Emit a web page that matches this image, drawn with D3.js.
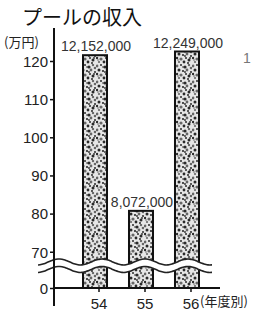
<!doctype html>
<html lang="ja">
<head>
<meta charset="utf-8">
<title>プールの収入</title>
<script src="https://cdn.jsdelivr.net/npm/d3@7"></script>
<style>
  html, body { margin: 0; padding: 0; background: #fff; }
  svg { display: block; }
  text { font-family: "Liberation Sans", "DejaVu Sans", sans-serif; fill: #222; }
  .jp { font-family: "Noto Sans CJK JP", sans-serif; }
</style>
</head>
<body>
<div id="chart"></div>
<script>
  // data (values in the axis unit, 万円 as printed; labels are the yen amounts)
  const years = ['54', '55', '56'];
  const income = [121.52, 80.72, 122.49];
  const incomeLabels = ['12,152,000', '8,072,000', '12,249,000'];
  const yTicks = [0, 70, 80, 90, 100, 110, 120];

  const width = 255, height = 312;

  const svg = d3.select('#chart').append('svg')
    .attr('width', width)
    .attr('height', height);

  // speckled fill like the printed screen tone
  const specks = [
    [1, 2, 1.4], [5, 1, 1.0], [9, 3, 1.6], [13, 1, 1.2], [3, 6, 1.5], [7, 7, 1.1],
    [11, 6, 1.4], [15, 8, 1.0], [1, 10, 1.2], [5, 11, 1.6], [10, 10, 1.0], [13, 12, 1.5],
    [3, 14, 1.1], [8, 14, 1.4], [12, 15, 1.0], [15, 4, 1.3], [7, 3, 0.8], [9, 8, 0.9],
    [2, 12, 0.8], [14, 10, 0.9]
  ];
  const pat = svg.append('defs').append('pattern')
    .attr('id', 'tone')
    .attr('patternUnits', 'userSpaceOnUse')
    .attr('width', 16).attr('height', 16);
  pat.append('rect').attr('width', 16).attr('height', 16).attr('fill', '#e6e6e6');
  pat.selectAll('circle').data(specks).join('circle')
    .attr('cx', d => d[0]).attr('cy', d => d[1]).attr('r', d => d[2])
    .attr('fill', (d, i) => i % 3 === 0 ? '#666' : '#2a2a2a');

  const x = d3.scaleBand()
    .domain(years)
    .range([83, 199])
    .paddingInner(0.478)
    .paddingOuter(0);

  // broken axis: 0 at the bottom, the break, then 70..120
  const y = d3.scaleLinear()
    .domain([0, 66, 120])
    .range([288, 267, 61]);

  // bars
  svg.selectAll('rect.bar')
    .data(years)
    .join('rect')
    .attr('class', 'bar')
    .attr('x', d => x(d))
    .attr('width', x.bandwidth())
    .attr('y', (d, i) => y(income[i]))
    .attr('height', (d, i) => y(0) - y(income[i]))
    .attr('fill', 'url(#tone)')
    .attr('stroke', '#111')
    .attr('stroke-width', 2);

  // value labels
  svg.selectAll('text.val')
    .data(years)
    .join('text')
    .attr('class', 'val')
    .attr('x', d => x(d) + x.bandwidth() / 2 + 1)
    .attr('y', (d, i) => y(income[i]) - 4)
    .attr('text-anchor', 'middle')
    .style('font-size', '14px')
    .style('fill', '#333')
    .text((d, i) => incomeLabels[i]);

  // break symbol: two wavy lines with white between them
  const waveX = d3.range(38, 213, 2);
  const wave = (x0, c) => c - 3 * Math.cos((x0 - 59) / 43 * 2 * Math.PI);
  const upper = waveX.map(v => [v, wave(v, 262)]);
  const lower = waveX.map(v => [v, wave(v, 269.5)]);
  svg.append('path')
    .attr('d', d3.line()(upper.concat(lower.slice().reverse())) + 'Z')
    .attr('fill', '#fff');
  const line = d3.line().curve(d3.curveBasis);
  [upper, lower].forEach(pts => {
    svg.append('path')
      .attr('d', line(pts))
      .attr('fill', 'none')
      .attr('stroke', '#222')
      .attr('stroke-width', 1.6);
  });

  // y axis
  svg.append('line')
    .attr('x1', 54).attr('x2', 54)
    .attr('y1', 28).attr('y2', 306)
    .attr('stroke', '#111').attr('stroke-width', 2);

  const yAxis = svg.append('g')
    .attr('transform', 'translate(54,0)')
    .call(d3.axisLeft(y).tickValues(yTicks).tickSize(4).tickPadding(2).tickFormat(d3.format('d')));
  yAxis.select('.domain').remove();
  yAxis.selectAll('line').attr('stroke', '#111').attr('stroke-width', 1.5);
  yAxis.selectAll('text').style('font-size', '15px').style('fill', '#222')
    .attr('dy', '0.36em');

  // x axis
  svg.append('line')
    .attr('x1', 54).attr('x2', 220)
    .attr('y1', y(0)).attr('y2', y(0))
    .attr('stroke', '#111').attr('stroke-width', 2);

  const xAxis = svg.append('g')
    .attr('transform', `translate(4,${y(0)})`)
    .call(d3.axisBottom(x).tickSize(4).tickPadding(6));
  xAxis.select('.domain').remove();
  xAxis.selectAll('line').attr('stroke', '#111').attr('stroke-width', 1.5);
  xAxis.selectAll('text').style('font-size', '15px').style('fill', '#222');

  svg.append('text')
    .attr('class', 'jp')
    .attr('x', 200).attr('y', 306)
    .style('font-size', '13px')
    .text('(年度別)');

  // unit and title
  svg.append('text')
    .attr('class', 'jp')
    .attr('x', 4).attr('y', 47)
    .style('font-size', '13px')
    .text('(万円)');

  svg.append('text')
    .attr('class', 'jp')
    .attr('x', 22).attr('y', 25)
    .style('font-size', '20px')
    .style('fill', '#111')
    .text('プールの収入');

  // stray figure at the edge of the scan
  svg.append('text')
    .attr('x', 243).attr('y', 63)
    .style('font-size', '14px')
    .style('fill', '#777')
    .text('1');
</script>
</body>
</html>
